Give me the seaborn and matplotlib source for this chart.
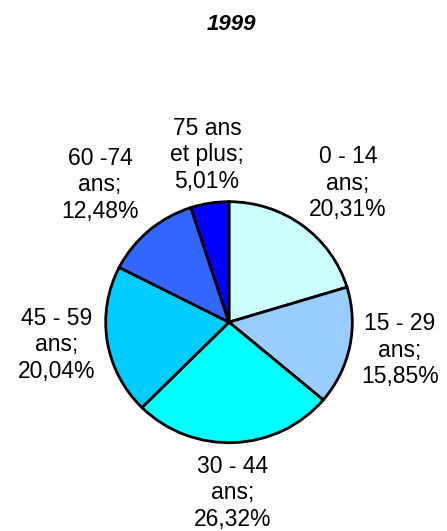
import matplotlib
matplotlib.use("Agg")
import matplotlib.pyplot as plt
import seaborn as sns

# Age groups and their share of the population (%)
groups = ["0 - 14\nans", "15 - 29\nans", "30 - 44\nans", "45 - 59\nans", "60 -74\nans", "75 ans\net plus"]
shares = [20.31, 15.85, 26.32, 20.04, 12.48, 5.01]
colors = ["#CCFFFF", "#99CCFF", "#00FFFF", "#00CCFF", "#3366FF", "#0000FF"]

# Label anchors in units of the pie radius, relative to its centre
label_pos = [(0.965, 1.155), (1.387, -0.231), (0.032, -1.417),
             (-1.395, -0.189), (-1.046, 1.139), (-0.178, 1.388)]

sns.set_theme(style="white")
plt.rcParams["font.family"] = ["Liberation Sans", "DejaVu Sans"]
plt.rcParams["text.color"] = "black"

W, H = 447, 531
fig = plt.figure(figsize=(W / 100, H / 100), dpi=100)
fig.patch.set_facecolor("white")
ax = fig.add_axes([0, 0, 1, 1])

wedges, _ = ax.pie(shares, colors=colors, startangle=90, counterclock=False,
                   wedgeprops=dict(edgecolor="black", linewidth=2))

# pixel scale of one radius unit, and centre position
rx, ry = 123.3, 120.5
cx, cy = 229, H - 322.2
ax.set_xlim(-cx / rx, (W - cx) / rx)
ax.set_ylim(-cy / ry, (H - cy) / ry)
ax.set_aspect("auto")
ax.axis("off")

for g, v, (lx, ly) in zip(groups, shares, label_pos):
    txt = f"{g};\n{v:.2f}%".replace(".", ",")
    ax.text(lx, ly, txt, ha="center", va="center", fontsize=16.5,
            linespacing=1.2, color="black")

fig.text(231.5 / W, 1 - 25 / H, "1999", ha="center", va="center",
         fontsize=16, fontweight="bold", fontstyle="italic", color="black")

fig.savefig("out.png", dpi=100, facecolor="white")
